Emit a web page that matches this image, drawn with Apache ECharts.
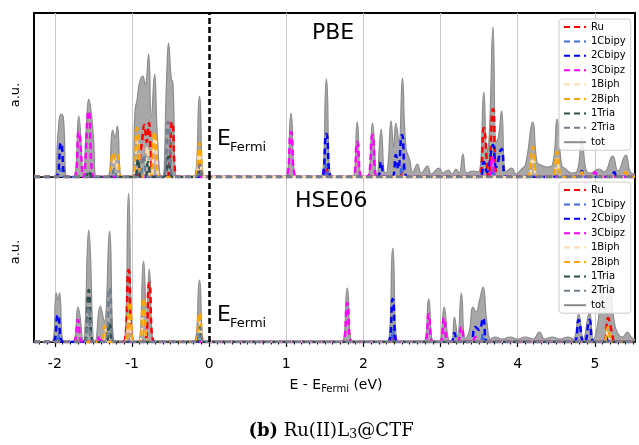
<!DOCTYPE html>
<html>
<head>
<meta charset="utf-8">
<script src="https://cdn.jsdelivr.net/npm/echarts@6/dist/echarts.min.js"></script>
<style>html,body{margin:0;padding:0;background:#fff;}#c{width:639px;height:445px;}</style>
</head>
<body>
<div id="c"></div>
<script>
// ---------- data (energy in eV, DOS in arbitrary units) ----------
const seriesNames = ['Ru','1Cbipy','2Cbipy','3Cbipz','1Biph','2Biph','1Tria','2Tria','tot'];
const tickValues = [-2,-1,0,1,2,3,4,5];
const gridLineValues = [-2,-1,1,2,3,4,5];
const fermiLevel = 0;

// PBE panel
const pbeTot = [[-2.27,0],[-2.0,0],[-1.96,42],[-1.92,63],[-1.89,60],[-1.84,0],[-1.76,0],[-1.69,61],[-1.63,0],
 [-1.59,52],[-1.56,78],[-1.53,66],[-1.5,40],[-1.46,0],[-1.32,0],[-1.25,47],[-1.22,40],[-1.19,51],[-1.13,0],
 [-1.0,0],[-0.96,66],[-0.935,77],[-0.9,95],[-0.86,101],[-0.83,92],[-0.785,123],[-0.75,60],[-0.707,103],[-0.67,40],[-0.62,0],
 [-0.6,0],[-0.55,100],[-0.526,134],[-0.49,98],[-0.47,95],[-0.42,0],[-0.2,0],[-0.125,81],[-0.06,0],
 [0.99,0],[1.061,64],[1.13,0],[1.45,0],[1.52,98],[1.59,0],[1.86,0],[1.92,55],[1.98,0],[2.05,0],[2.117,54],[2.175,0],
 [2.23,48],[2.28,4],[2.31,6],[2.36,56],[2.39,30],[2.42,54],[2.46,35],[2.505,99],[2.55,30],[2.6,17],[2.64,5],
 [2.7,13],[2.75,4],[2.83,11],[2.88,3],[2.98,9],[3.03,4],[3.1,7],[3.15,3],[3.2,8],[3.24,4],[3.29,23],[3.34,4],[3.42,6],
 [3.49,5],[3.56,85],[3.6,25],[3.63,40],[3.68,150],[3.72,35],[3.75,40],[3.79,66],[3.85,5],[3.92,9],[3.98,3],
 [4.05,8],[4.1,12],[4.195,55],[4.25,15],[4.3,12],[4.38,10],[4.45,12],[4.51,58],[4.57,12],[4.62,8],[4.7,4],[4.77,6],
 [4.83,40],[4.89,6],[4.95,4],[5.05,8],[5.12,5],[5.23,21],[5.3,6],[5.4,22],[5.46,5],[5.52,3]];
const pbeRu = [[-2.27,0],[-0.96,0],[-0.88,30],[-0.84,52],[-0.81,35],[-0.78,54],[-0.73,0],[-0.55,0],[-0.48,55],[-0.41,0],
 [1.48,0],[1.52,10],[1.56,0],[2.47,0],[2.5,4],[2.53,0],[3.5,0],[3.56,49],[3.62,0],[3.68,68],[3.74,0],[5.52,0]];
const pbe1Cbipy = [[-2.27,0],[-1.96,0],[-1.92,8],[-1.88,0],[1.48,0],[1.52,12],[1.56,0],[2.46,0],[2.5,12],[2.54,0],
 [3.64,0],[3.68,8],[3.72,0],[5.52,0]];
const pbe2Cbipy = [[-2.27,0],[-1.99,0],[-1.92,34],[-1.85,0],[1.45,0],[1.52,43],[1.59,0],[2.18,0],[2.23,15],[2.28,0],
 [2.37,0],[2.42,22],[2.45,8],[2.5,42],[2.57,0],[3.51,0],[3.56,15],[3.6,5],[3.68,32],[3.72,10],[3.79,28],[3.85,0],
 [4.79,0],[4.83,6],[4.87,0],[5.21,0],[5.25,5],[5.29,0],[5.52,0]];
const pbe3Cbipz = [[-2.27,0],[-1.75,0],[-1.69,45],[-1.63,0],[-1.56,66],[-1.49,0],[0.99,0],[1.061,45],[1.13,0],
 [1.86,0],[1.92,35],[1.98,0],[2.05,0],[2.117,42],[2.18,0],[3.62,0],[3.67,20],[3.72,0],[4.95,0],[5.0,5],[5.05,0],[5.52,0]];
const pbe1Biph = [[-2.27,0],[-1.3,0],[-1.22,18],[-1.14,0],[-1.0,0],[-0.93,38],[-0.87,0],[-0.84,0],[-0.8,30],[-0.76,0],
 [-0.75,0],[-0.7,40],[-0.64,0],[-0.19,0],[-0.125,24],[-0.06,0],[4.13,0],[4.195,20],[4.26,0],[4.45,0],[4.51,18],[4.57,0],[5.52,0]];
const pbe2Biph = [[-2.27,0],[-1.31,0],[-1.25,24],[-1.22,18],[-1.19,22],[-1.13,0],[-1.0,0],[-0.935,49],[-0.87,0],
 [-0.77,0],[-0.707,45],[-0.64,0],[-0.19,0],[-0.125,34],[-0.06,0],[4.12,0],[4.195,30],[4.27,0],[4.44,0],[4.51,25],[4.58,0],
 [4.79,0],[4.83,5],[4.87,0],[5.36,0],[5.4,5],[5.44,0],[5.52,0]];
const pbe1Tria = [[-2.27,0],[-1.61,0],[-1.56,6],[-1.51,0],[-0.97,0],[-0.92,18],[-0.88,0],[-0.83,0],[-0.79,15],[-0.74,0],
 [-0.59,0],[-0.53,20],[-0.47,0],[-0.17,0],[-0.12,8],[-0.07,0],[5.52,0]];
const pbe2Tria = [[-2.27,0],[-1.29,0],[-1.23,8],[-1.18,0],[-0.91,0],[-0.85,22],[-0.79,0],[-0.6,0],[-0.53,55],[-0.46,0],
 [-0.18,0],[-0.12,12],[-0.07,0],[5.52,0]];

// HSE06 panel
const hseTot = [[-2.27,0],[-2.04,0],[-1.98,49],[-1.96,42],[-1.94,49],[-1.88,0],[-1.77,0],[-1.70,35],[-1.635,0],
 [-1.56,112],[-1.49,0],[-1.48,0],[-1.41,36],[-1.36,20],[-1.29,111],[-1.22,0],[-1.11,0],[-1.044,149],[-0.98,0],
 [-0.92,0],[-0.85,81],[-0.81,25],[-0.776,73],[-0.71,0],[-0.2,0],[-0.125,62],[-0.06,0],
 [1.72,0],[1.79,54],[1.86,0],[2.31,0],[2.38,94],[2.45,0],[2.78,0],[2.846,43],[2.91,0],[2.98,0],[3.045,35],[3.1,3],
 [3.14,0],[3.18,25],[3.22,5],[3.27,49],[3.32,3],[3.37,10],[3.42,35],[3.46,30],[3.5,40],[3.55,55],[3.6,20],[3.65,3],
 [3.7,5],[3.8,3],[3.9,5],[4.0,3],[4.1,5],[4.2,3],[4.28,10],[4.35,3],[4.45,5],[4.55,3],[4.65,5],[4.72,3],
 [4.79,28],[4.85,3],[4.93,30],[4.98,3],[5.04,20],[5.09,57],[5.13,35],[5.19,67],[5.25,20],[5.3,8],[5.36,5],[5.42,10],[5.48,4],[5.52,3]];
const hseRu = [[-2.27,0],[-1.11,0],[-1.044,72],[-0.98,0],[-0.84,0],[-0.776,59],[-0.71,0],[2.35,0],[2.38,8],[2.41,0],
 [5.11,0],[5.17,24],[5.22,10],[5.27,0],[5.52,0]];
const hse1Cbipy = [[-2.27,0],[-2.0,0],[-1.96,8],[-1.92,0],[2.34,0],[2.38,12],[2.42,0],[3.51,0],[3.55,8],[3.59,0],[5.52,0]];
const hse2Cbipy = [[-2.27,0],[-2.03,0],[-1.96,27],[-1.89,0],[2.32,0],[2.38,43],[2.44,0],[3.13,0],[3.18,9],[3.22,0],
 [3.38,0],[3.45,15],[3.5,12],[3.55,24],[3.61,0],[4.73,0],[4.79,22],[4.85,0],[4.87,0],[4.93,22],[4.99,0],
 [5.11,0],[5.15,5],[5.19,0],[5.52,0]];
const hse3Cbipz = [[-2.27,0],[-1.76,0],[-1.70,22],[-1.64,0],[-1.46,0],[-1.42,6],[-1.38,0],[1.73,0],[1.79,39],[1.85,0],
 [2.79,0],[2.846,28],[2.9,0],[2.99,0],[3.045,24],[3.1,0],[3.21,0],[3.27,15],[3.33,0],[3.41,0],[3.45,5],[3.49,0],[5.52,0]];
const hse1Biph = [[-2.27,0],[-1.4,0],[-1.35,12],[-1.3,0],[-1.1,0],[-1.04,22],[-0.98,0],[-0.91,0],[-0.85,30],[-0.79,0],
 [-0.18,0],[-0.125,20],[-0.07,0],[5.12,0],[5.17,12],[5.22,0],[5.52,0]];
const hse2Biph = [[-2.27,0],[-1.41,0],[-1.35,16],[-1.29,0],[-1.09,0],[-1.03,40],[-0.97,0],[-0.91,0],[-0.85,44],[-0.79,0],
 [-0.19,0],[-0.125,29],[-0.06,0],[5.11,0],[5.17,15],[5.23,0],[5.52,0]];
const hse1Tria = [[-2.27,0],[-1.62,0],[-1.56,52],[-1.5,0],[-1.34,0],[-1.29,20],[-1.24,0],[-0.17,0],[-0.12,8],[-0.07,0],[5.52,0]];
const hse2Tria = [[-2.27,0],[-1.61,0],[-1.56,35],[-1.51,0],[-1.35,0],[-1.29,54],[-1.23,0],[-0.17,0],[-0.12,15],[-0.07,0],[5.52,0]];

const panelTitles = ['PBE','HSE06'];
// ---------- styling ----------
const colors = {Ru:'#ff0000','1Cbipy':'#4169e1','2Cbipy':'#0000ff','3Cbipz':'#ff00ff','1Biph':'#ffdead','2Biph':'#ffa500','1Tria':'#2f4f4f','2Tria':'#708090',tot:'#808080'};
const panels = [
  {tot:pbeTot, parts:[pbeRu,pbe1Cbipy,pbe2Cbipy,pbe3Cbipz,pbe1Biph,pbe2Biph,pbe1Tria,pbe2Tria], ymax:164},
  {tot:hseTot, parts:[hseRu,hse1Cbipy,hse2Cbipy,hse3Cbipz,hse1Biph,hse2Biph,hse1Tria,hse2Tria], ymax:165}
];
const XMIN=-2.27, XMAX=5.52;
const minorTicks=[]; for(let i=-22;i<=55;i++){ if(i%10!==0) minorTicks.push(+(i/10).toFixed(1)); }

const chart = echarts.init(document.getElementById('c'), null, {renderer:'canvas'});
const FONT='DejaVu Sans';
const SMOOTH=0.5;
const series=[];
panels.forEach((p,pi)=>{
  series.push({type:'line', xAxisIndex:pi, yAxisIndex:pi, data:[], silent:true, z:1,
    markLine:{silent:true, symbol:'none', z:1, animation:false, label:{show:false},
      lineStyle:{color:'#c8c8c8', width:1, type:'solid'},
      data: gridLineValues.map(v=>({xAxis:v}))}});
  series.push({name:'tot', type:'line', xAxisIndex:pi, yAxisIndex:pi, data:p.tot, smooth:SMOOTH, symbol:'none', z:2,
    lineStyle:{color:'#8c8c8c', width:1.2}, itemStyle:{color:'#808080'},
    areaStyle:{color:'#a8a8a8', opacity:1}});
  p.parts.forEach((d,k)=>{
    const nm=seriesNames[k];
    series.push({name:nm, type:'line', xAxisIndex:pi, yAxisIndex:pi, data:d, smooth:SMOOTH, symbol:'none', z:3,
      lineStyle:{color:colors[nm], width:2.5, type:[6,4]}, itemStyle:{color:colors[nm]}});
  });
  series.push({type:'line', xAxisIndex:pi, yAxisIndex:pi, data:[], silent:true, z:10,
    markLine:{silent:true, symbol:'none', z:10, animation:false, label:{show:false},
      lineStyle:{color:'#000', width:2.5, type:[6,3]}, data:[{xAxis:fermiLevel}]}});
});

const legendBase = {orient:'vertical', itemWidth:22, itemHeight:10, itemGap:4.4, padding:[3,5,3,4],
  backgroundColor:'rgba(255,255,255,0.85)', borderColor:'#cccccc', borderWidth:1, borderRadius:3,
  itemStyle:{opacity:0, borderWidth:0},
  textStyle:{fontFamily:FONT, fontSize:10, color:'#000', lineHeight:10}, data:seriesNames, selectedMode:false};

const option = {
  animation:false,
  backgroundColor:'#fff',
  grid:[
    {left:34, top:13, width:601, height:164, show:true, borderColor:'#000', borderWidth:2, backgroundColor:'transparent'},
    {left:34, top:177, width:601, height:165, show:true, borderColor:'#000', borderWidth:2, backgroundColor:'transparent'}
  ],
  xAxis:[
    {type:'value', gridIndex:0, min:XMIN, max:XMAX, axisLine:{show:true, onZero:false, lineStyle:{color:'#000', width:2}},
      axisTick:{show:false}, axisLabel:{show:false}, splitLine:{show:false}},
    {type:'value', gridIndex:1, min:XMIN, max:XMAX, axisLine:{show:true, onZero:false, lineStyle:{color:'#000', width:2}},
      axisTick:{show:true, length:5, lineStyle:{color:'#000', width:1.2}, customValues:tickValues},
      axisLabel:{show:true, customValues:tickValues, fontFamily:FONT, fontSize:14, color:'#000', margin:15,
        formatter:v=>String(v)}, splitLine:{show:false}},
    {type:'value', gridIndex:1, min:XMIN, max:XMAX, position:'bottom', axisLine:{show:false, onZero:false},
      axisTick:{show:true, length:2.5, lineStyle:{color:'#000', width:1}, customValues:minorTicks},
      axisLabel:{show:false}, splitLine:{show:false}}
  ],
  yAxis:[
    {type:'value', gridIndex:0, min:0, max:panels[0].ymax, axisLine:{show:true, onZero:false, lineStyle:{color:'#000', width:2}},
      axisTick:{show:false}, axisLabel:{show:false}, splitLine:{show:false}},
    {type:'value', gridIndex:1, min:0, max:panels[1].ymax, axisLine:{show:true, onZero:false, lineStyle:{color:'#000', width:2}},
      axisTick:{show:false}, axisLabel:{show:false}, splitLine:{show:false}}
  ],
  legend:[
    Object.assign({}, legendBase, {left:559, top:19}),
    Object.assign({}, legendBase, {left:559, top:182})
  ],
  series:series,
  graphic:[
    {type:'text', z:20, left:312, top:22, style:{text:panelTitles[0], fontFamily:FONT, fontSize:22, fill:'#000'}},
    {type:'text', z:20, left:295, top:190, style:{text:panelTitles[1], fontFamily:FONT, fontSize:22, fill:'#000'}},
    {type:'text', z:20, x:217, y:150, style:{text:'E', fontFamily:FONT, fontSize:22, fill:'#000', verticalAlign:'bottom'}},
    {type:'text', z:20, x:230, y:154, style:{text:'Fermi', fontFamily:FONT, fontSize:13, fill:'#000', verticalAlign:'bottom'}},
    {type:'text', z:20, x:217, y:326, style:{text:'E', fontFamily:FONT, fontSize:22, fill:'#000', verticalAlign:'bottom'}},
    {type:'text', z:20, x:230, y:330, style:{text:'Fermi', fontFamily:FONT, fontSize:13, fill:'#000', verticalAlign:'bottom'}},
    {type:'text', z:20, x:16, y:95, rotation:Math.PI/2, style:{text:'a.u.', fontFamily:FONT, fontSize:13, fill:'#000', align:'center', verticalAlign:'middle'}},
    {type:'text', z:20, x:16, y:252, rotation:Math.PI/2, style:{text:'a.u.', fontFamily:FONT, fontSize:13, fill:'#000', align:'center', verticalAlign:'middle'}},
    {type:'text', z:20, x:336, y:385, style:{text:'{a|E - E}{b|Fermi}{a| (eV)}', align:'center', verticalAlign:'middle',
      rich:{a:{fontFamily:FONT, fontSize:14, color:'#000'}, b:{fontFamily:FONT, fontSize:10, color:'#000', padding:[8,0,0,0]}}}},
    {type:'text', z:20, x:331, y:431, style:{text:'{b|(b)}{n| Ru(II)L}{s|3}{n|@CTF}', align:'center', verticalAlign:'middle',
      rich:{b:{fontFamily:'DejaVu Serif', fontWeight:'bold', fontSize:18, color:'#000'},
            n:{fontFamily:'DejaVu Serif', fontSize:18, color:'#000'},
            s:{fontFamily:'DejaVu Serif', fontSize:13, color:'#000', padding:[7,0,0,0]}}}}
  ]
};
chart.setOption(option);
</script>
</body>
</html>
